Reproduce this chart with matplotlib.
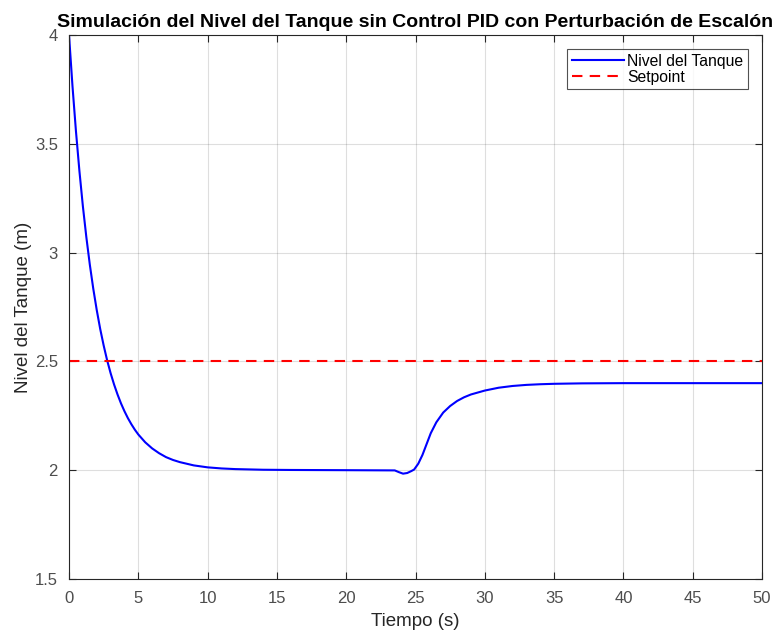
import matplotlib
matplotlib.use("Agg")
import matplotlib.pyplot as plt

plt.rcParams['font.family'] = ['Liberation Sans', 'DejaVu Sans']

# Nivel del tanque (t en s, nivel en m)
tiempo = [0, 0.25, 0.5, 0.75, 1, 1.25, 1.5, 1.75, 2, 2.25, 2.5, 2.75, 3, 3.25,
          3.5, 3.75, 4, 4.25, 4.5, 4.75, 5, 5.5, 6, 6.5, 7, 7.5, 8, 9, 10, 11,
          12, 14, 16, 20, 23.5, 23.8, 24.1, 24.4, 24.7, 24.9,
          25.2, 25.5, 25.8, 26.1, 26.5, 27, 27.5, 28, 28.5, 29, 30, 31, 32,
          33, 34, 35, 37, 40, 45, 50]
nivel = [4.000, 3.765, 3.558, 3.375, 3.213, 3.071, 2.945, 2.834, 2.736, 2.649,
         2.573, 2.505, 2.446, 2.394, 2.348, 2.307, 2.271, 2.239, 2.211, 2.186,
         2.164, 2.128, 2.100, 2.078, 2.060, 2.047, 2.037, 2.022, 2.013, 2.008,
         2.005, 2.002, 2.001, 2.000, 1.999, 1.991, 1.984, 1.987, 1.996, 2.003,
         2.030, 2.070, 2.120, 2.170, 2.220, 2.265, 2.295, 2.318, 2.335, 2.348,
         2.366, 2.379, 2.387, 2.392, 2.395, 2.397, 2.399, 2.400, 2.400, 2.400]
setpoint = 2.5

xticks = list(range(0, 51, 5))
yticks = [1.5, 2, 2.5, 3, 3.5, 4]
ytick_labels = ['1.5', '2', '2.5', '3', '3.5', '4']

fig = plt.figure(figsize=(7.79, 6.32), dpi=100)
ax = fig.add_axes([0.0886, 0.0839, 0.8896, 0.8607])

ax.plot(tiempo, nivel, color='#0000ff', lw=1.5, label='Nivel del Tanque')
ax.axhline(setpoint, color='#ff0000', lw=1.5, ls=(0, (5, 3.5)), label='Setpoint')

ax.set_xlim(0, 50)
ax.set_ylim(1.5, 4)
ax.set_xticks(xticks)
ax.set_yticks(yticks)
ax.set_yticklabels(ytick_labels)
ax.grid(True, color='#000000', alpha=0.13, lw=0.8)
ax.tick_params(direction='in', top=True, right=True, length=5, width=0.8,
               labelsize=12, labelcolor='#4d4d4d', color='#262626')
ax.tick_params(axis='x', pad=9)
ax.tick_params(axis='y', pad=8)
for s in ax.spines.values():
    s.set_color('#262626')
    s.set_linewidth(0.8)

ax.set_xlabel('Tiempo (s)', fontsize=13.5, color='#262626', labelpad=5)
ax.set_ylabel('Nivel del Tanque (m)', fontsize=13.5, color='#262626', labelpad=2)
ax.set_title('Simulación del Nivel del Tanque sin Control PID con Perturbación de Escalón',
             fontsize=14, fontweight='bold', color='#000000', pad=6)

leg = ax.legend(loc='upper right', fontsize=11.3, frameon=True, fancybox=False,
                edgecolor='#262626', handlelength=3.3, handletextpad=0.2,
                labelspacing=0.05, borderpad=0.3, borderaxespad=0.9)
leg.get_frame().set_linewidth(0.8)

plt.savefig('out.png', dpi=100)
